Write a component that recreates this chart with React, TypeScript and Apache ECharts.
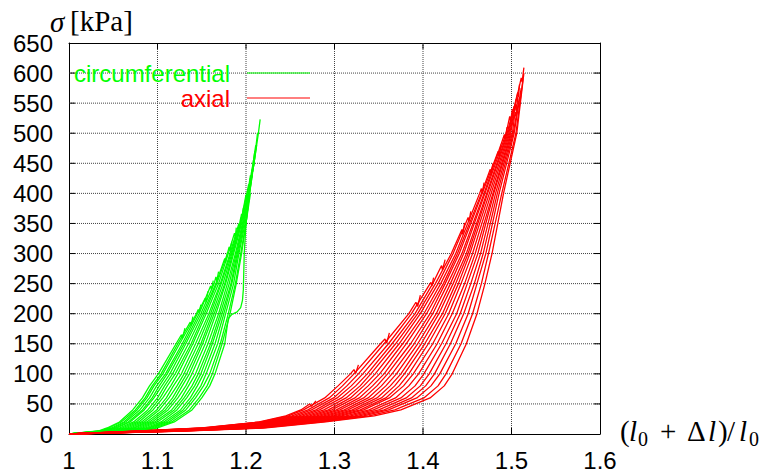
import React, { useEffect, useRef } from "react";
import * as echarts from "echarts";

// x: stretch ratio (l0 + Δl)/l0, y: stress σ [kPa]
const xTicks = { min: 1, max: 1.6, interval: 0.1 };
const yTicks = { min: 0, max: 650, interval: 50 };
const xInnerTicks = [1.1, 1.2, 1.3, 1.4, 1.5];
const yInnerTicks = [50, 100, 150, 200, 250, 300, 350, 400, 450, 500, 550, 600];

// circumferential loading curves [stretch, stress]
const c01 = [[1.0,0],[1.033,5],[1.043,10],[1.057,20],[1.072,40],[1.083,60],[1.091,80],[1.101,100],[1.121,150],[1.127,165],[1.128,158],[1.131,176]];
const c02 = [[1.0,0],[1.035,5],[1.045,10],[1.059,20],[1.075,40],[1.086,60],[1.094,80],[1.104,100],[1.123,150],[1.137,186],[1.138,180],[1.140,195]];
const c03 = [[1.0,0],[1.037,5],[1.048,10],[1.062,20],[1.077,40],[1.088,60],[1.096,80],[1.106,100],[1.125,150],[1.144,200],[1.146,207],[1.147,201],[1.149,215]];
const c04 = [[1.0,0],[1.039,5],[1.050,10],[1.064,20],[1.080,40],[1.091,60],[1.099,80],[1.109,100],[1.128,150],[1.145,200],[1.154,226],[1.155,219],[1.157,237]];
const c05 = [[1.0,0],[1.041,5],[1.052,10],[1.067,20],[1.083,40],[1.094,60],[1.102,80],[1.111,100],[1.130,150],[1.147,200],[1.160,246],[1.161,240],[1.163,255]];
const c06 = [[1.0,0],[1.043,5],[1.054,10],[1.069,20],[1.085,40],[1.096,60],[1.105,80],[1.114,100],[1.132,150],[1.149,200],[1.164,250],[1.166,261],[1.167,254],[1.169,270]];
const c07 = [[1.0,0],[1.046,5],[1.057,10],[1.073,20],[1.089,40],[1.100,60],[1.108,80],[1.117,100],[1.135,150],[1.151,200],[1.166,250],[1.176,292],[1.177,285],[1.179,301]];
const c08 = [[1.0,0],[1.049,5],[1.060,10],[1.076,20],[1.092,40],[1.103,60],[1.111,80],[1.120,100],[1.138,150],[1.153,200],[1.167,250],[1.179,300],[1.181,311],[1.182,304],[1.184,320]];
const c09 = [[1.0,0],[1.051,5],[1.063,10],[1.079,20],[1.095,40],[1.106,60],[1.115,80],[1.123,100],[1.140,150],[1.155,200],[1.169,250],[1.180,300],[1.187,334],[1.188,327],[1.189,343]];
const c10 = [[1.0,0],[1.054,5],[1.066,10],[1.082,20],[1.099,40],[1.110,60],[1.118,80],[1.127,100],[1.143,150],[1.158,200],[1.171,250],[1.182,300],[1.192,350],[1.193,344],[1.194,360]];
const c11 = [[1.0,0],[1.056,5],[1.069,10],[1.085,20],[1.102,40],[1.113,60],[1.122,80],[1.130,100],[1.146,150],[1.160,200],[1.172,250],[1.183,300],[1.193,350],[1.195,366],[1.196,359],[1.197,376]];
const c12 = [[1.0,0],[1.059,5],[1.072,10],[1.088,20],[1.106,40],[1.117,60],[1.125,80],[1.133,100],[1.149,150],[1.162,200],[1.174,250],[1.184,300],[1.194,350],[1.200,398],[1.201,392],[1.202,406]];
const c13 = [[1.0,0],[1.062,5],[1.074,10],[1.091,20],[1.109,40],[1.120,60],[1.128,80],[1.136,100],[1.151,150],[1.164,200],[1.176,250],[1.185,300],[1.194,350],[1.201,400],[1.203,415],[1.204,409],[1.205,425]];
const c14 = [[1.0,0],[1.064,5],[1.077,10],[1.094,20],[1.112,40],[1.123,60],[1.132,80],[1.139,100],[1.154,150],[1.166,200],[1.177,250],[1.186,300],[1.195,350],[1.202,400],[1.205,430],[1.206,424],[1.207,440]];
const c15 = [[1.0,0],[1.067,5],[1.080,10],[1.097,20],[1.116,40],[1.127,60],[1.135,80],[1.143,100],[1.157,150],[1.169,200],[1.179,250],[1.188,300],[1.196,350],[1.202,400],[1.208,450],[1.210,470]];
const c16 = [[1.0,0],[1.069,5],[1.083,10],[1.100,20],[1.119,40],[1.130,60],[1.139,80],[1.146,100],[1.160,150],[1.171,200],[1.181,250],[1.189,300],[1.197,350],[1.203,400],[1.209,450],[1.213,500]];
const c17 = [[1.0,0],[1.072,5],[1.086,10],[1.104,20],[1.122,40],[1.133,60],[1.142,80],[1.149,100],[1.162,150],[1.173,200],[1.183,250],[1.190,300],[1.197,350],[1.203,400],[1.209,450],[1.214,500],[1.216,523]];
const c18 = [[1.0,0],[1.075,5],[1.089,10],[1.107,20],[1.126,40],[1.137,60],[1.145,80],[1.152,100],[1.165,150],[1.175,200],[1.184,250],[1.191,300],[1.198,350],[1.203,400],[1.209,450],[1.212,480]];
const c19 = [[1.0,0],[1.077,5],[1.091,10],[1.110,20],[1.129,40],[1.140,60],[1.149,80],[1.155,100],[1.168,150],[1.177,200],[1.186,250],[1.192,300],[1.199,350],[1.204,400],[1.209,450]];
const c20 = [[1.0,0],[1.080,5],[1.094,10],[1.113,20],[1.132,40],[1.143,60],[1.152,80],[1.159,100],[1.171,150],[1.180,200],[1.188,250],[1.194,300],[1.200,350],[1.204,400],[1.207,430]];
const c21 = [[1.0,0],[1.082,5],[1.097,10],[1.116,20],[1.136,40],[1.147,60],[1.156,80],[1.162,100],[1.173,150],[1.182,200],[1.189,250],[1.195,300],[1.200,350],[1.205,400]];
const c22 = [[1.0,0],[1.085,5],[1.100,10],[1.119,20],[1.139,40],[1.150,60],[1.159,80],[1.165,100],[1.176,150],[1.180,192],[1.184,199],[1.190,203],[1.194,210],[1.196,222],[1.197,240],[1.198,300],[1.200,350],[1.204,400],[1.208,450],[1.211,480]];

// axial loading curves [stretch, stress]
const a01 = [[1.0,0],[1.080,5],[1.150,10],[1.215,20],[1.245,30],[1.262,40],[1.272,50],[1.274,46],[1.279,55]];
const a02 = [[1.0,0],[1.082,5],[1.152,10],[1.217,20],[1.248,30],[1.265,40],[1.289,60],[1.304,80],[1.318,100],[1.322,107],[1.324,101],[1.327,115]];
const a03 = [[1.0,0],[1.084,5],[1.155,10],[1.220,20],[1.252,30],[1.270,40],[1.294,60],[1.309,80],[1.322,100],[1.352,150],[1.357,158],[1.359,151],[1.362,168]];
const a04 = [[1.0,0],[1.086,5],[1.158,10],[1.223,20],[1.256,30],[1.274,40],[1.299,60],[1.314,80],[1.327,100],[1.356,150],[1.384,200],[1.392,219],[1.394,212],[1.397,231]];
const a05 = [[1.0,0],[1.088,5],[1.161,10],[1.226,20],[1.260,30],[1.279,40],[1.303,60],[1.319,80],[1.332,100],[1.361,150],[1.387,200],[1.408,250],[1.409,252],[1.410,246],[1.412,260]];
const a06 = [[1.0,0],[1.090,5],[1.163,10],[1.229,20],[1.264,30],[1.283,40],[1.308,60],[1.324,80],[1.337,100],[1.365,150],[1.391,200],[1.411,250],[1.421,280],[1.422,273],[1.425,290]];
const a07 = [[1.0,0],[1.092,5],[1.166,10],[1.232,20],[1.268,30],[1.288,40],[1.313,60],[1.329,80],[1.341,100],[1.369,150],[1.394,200],[1.414,250],[1.432,300],[1.444,340],[1.445,332],[1.447,351]];
const a08 = [[1.0,0],[1.094,5],[1.169,10],[1.235,20],[1.272,30],[1.293,40],[1.318,60],[1.333,80],[1.346,100],[1.373,150],[1.397,200],[1.417,250],[1.434,300],[1.451,360],[1.452,353],[1.454,370]];
const a09 = [[1.0,0],[1.096,5],[1.172,10],[1.238,20],[1.276,30],[1.297,40],[1.323,60],[1.338,80],[1.351,100],[1.377,150],[1.401,200],[1.420,250],[1.437,300],[1.464,400],[1.466,408],[1.467,400],[1.469,418]];
const a10 = [[1.0,0],[1.098,5],[1.175,10],[1.241,20],[1.280,30],[1.302,40],[1.328,60],[1.343,80],[1.356,100],[1.381,150],[1.404,200],[1.423,250],[1.439,300],[1.466,400],[1.476,440],[1.477,432],[1.479,450]];
const a11 = [[1.0,0],[1.100,5],[1.177,10],[1.244,20],[1.284,30],[1.306,40],[1.333,60],[1.348,80],[1.360,100],[1.386,150],[1.408,200],[1.425,250],[1.441,300],[1.467,400],[1.485,470],[1.486,462],[1.488,481]];
const a12 = [[1.0,0],[1.102,5],[1.180,10],[1.247,20],[1.288,30],[1.311,40],[1.338,60],[1.353,80],[1.365,100],[1.390,150],[1.411,200],[1.428,250],[1.444,300],[1.469,400],[1.492,498],[1.493,492],[1.495,510]];
const a13 = [[1.0,0],[1.104,5],[1.183,10],[1.250,20],[1.292,30],[1.315,40],[1.343,60],[1.358,80],[1.370,100],[1.394,150],[1.415,200],[1.431,250],[1.446,300],[1.470,400],[1.494,500],[1.498,528],[1.499,520],[1.501,540]];
const a14 = [[1.0,0],[1.106,5],[1.186,10],[1.253,20],[1.296,30],[1.320,40],[1.348,60],[1.363,80],[1.375,100],[1.398,150],[1.418,200],[1.434,250],[1.449,300],[1.472,400],[1.495,500],[1.503,545],[1.504,538],[1.505,556]];
const a15 = [[1.0,0],[1.108,5],[1.189,10],[1.256,20],[1.300,30],[1.324,40],[1.353,60],[1.368,80],[1.379,100],[1.402,150],[1.422,200],[1.437,250],[1.451,300],[1.473,400],[1.496,500],[1.507,568],[1.508,560],[1.509,581]];
const a16 = [[1.0,0],[1.110,5],[1.191,10],[1.259,20],[1.304,30],[1.329,40],[1.358,60],[1.373,80],[1.384,100],[1.406,150],[1.425,200],[1.440,250],[1.453,300],[1.475,400],[1.497,500],[1.511,592],[1.512,585],[1.514,609]];
const a17 = [[1.0,0],[1.112,5],[1.194,10],[1.262,20],[1.308,30],[1.333,40],[1.362,60],[1.378,80],[1.389,100],[1.411,150],[1.429,200],[1.443,250],[1.456,300],[1.477,400],[1.498,500],[1.505,548],[1.506,541],[1.507,560]];
const a18 = [[1.0,0],[1.114,5],[1.198,10],[1.266,20],[1.313,30],[1.339,40],[1.369,60],[1.384,80],[1.395,100],[1.416,150],[1.433,200],[1.447,250],[1.459,300],[1.479,400],[1.499,500],[1.503,530]];
const a19 = [[1.0,0],[1.117,5],[1.201,10],[1.270,20],[1.318,30],[1.344,40],[1.375,60],[1.391,80],[1.401,100],[1.421,150],[1.438,200],[1.450,250],[1.462,300],[1.480,400],[1.500,500]];
const a20 = [[1.0,0],[1.119,5],[1.205,10],[1.274,20],[1.323,30],[1.350,40],[1.381,60],[1.397,80],[1.407,100],[1.426,150],[1.442,200],[1.454,250],[1.465,300],[1.482,400],[1.501,500],[1.504,535],[1.505,528],[1.506,545]];
const a21 = [[1.0,0],[1.122,5],[1.208,10],[1.277,20],[1.328,30],[1.356,40],[1.387,60],[1.403,80],[1.413,100],[1.431,150],[1.446,200],[1.458,250],[1.468,300],[1.484,400],[1.502,500],[1.509,560]];
const a22 = [[1.0,0],[1.124,5],[1.212,10],[1.281,20],[1.333,30],[1.361,40],[1.393,60],[1.409,80],[1.419,100],[1.437,150],[1.451,200],[1.461,250],[1.471,300],[1.486,400],[1.503,500],[1.511,575]];
const a23 = [[1.0,0],[1.127,5],[1.216,10],[1.286,20],[1.339,30],[1.368,40],[1.401,60],[1.417,80],[1.426,100],[1.443,150],[1.456,200],[1.466,250],[1.474,300],[1.489,400],[1.505,500],[1.513,590]];
const a24 = [[1.0,0],[1.130,5],[1.220,10],[1.290,20],[1.345,30],[1.375,40],[1.408,60],[1.424,80],[1.433,100],[1.449,150],[1.461,200],[1.470,250],[1.478,300],[1.491,400],[1.506,500],[1.514,600]];

const circumferentialCurves = [c01, c02, c03, c04, c05, c06, c07, c08, c09, c10, c11, c12, c13, c14, c15, c16, c17, c18, c19, c20, c21, c22];
const axialCurves = [a01, a02, a03, a04, a05, a06, a07, a08, a09, a10, a11, a12, a13, a14, a15, a16, a17, a18, a19, a20, a21, a22, a23, a24];

const legendNames = ["circumferential", "axial"];
const GREEN = "#00ff00";
const RED = "#ff0000";
const SANS = "'Liberation Sans', Arial, Helvetica, sans-serif";
const SERIF = "'Liberation Serif', 'Times New Roman', serif";

export default function App() {
  const ref = useRef<HTMLDivElement>(null);
  useEffect(() => {
    if (!ref.current) return;
    const chart = echarts.init(ref.current, null, { renderer: "svg" });
    const fmt = (v: number) => String(Math.round(v * 10) / 10);
    const axisLine = { show: true, onZero: false, lineStyle: { color: "#000", width: 1 } };
    const noTick = { show: false };
    const noSplit = { show: false };
    const label = { color: "#000", fontSize: 24, fontFamily: SANS };

    // inward tick length: about 6 px in data units
    const tx = (xTicks.max - xTicks.min) * 6 / 531;
    const ty = (yTicks.max - yTicks.min) * 6 / 393;

    const plain = (data: number[][], color: string, width: number, type: string, z: number) => ({
      type: "line",
      data,
      showSymbol: false,
      symbol: "none",
      silent: true,
      xAxisIndex: 0,
      yAxisIndex: 0,
      lineStyle: { color, width, type },
      itemStyle: { color },
      z,
    });

    // dotted grid drawn at the tick values through the axes' own scales
    const gridSeries = [
      ...xInnerTicks.map((v) => plain([[v, yTicks.min], [v, yTicks.max]], "#444", 1, "dotted", 1)),
      ...yInnerTicks.map((v) => plain([[xTicks.min, v], [xTicks.max, v]], "#444", 1, "dotted", 1)),
    ];
    // inward ticks on all four sides (gnuplot style)
    const tickSeries = [
      ...xInnerTicks.map((v) => plain([[v, yTicks.min], [v, yTicks.min + ty]], "#000", 1, "solid", 2)),
      ...xInnerTicks.map((v) => plain([[v, yTicks.max], [v, yTicks.max - ty]], "#000", 1, "solid", 2)),
      ...yInnerTicks.map((v) => plain([[xTicks.min, v], [xTicks.min + tx, v]], "#000", 1, "solid", 2)),
      ...yInnerTicks.map((v) => plain([[xTicks.max, v], [xTicks.max - tx, v]], "#000", 1, "solid", 2)),
    ];

    const mkSeries = (curves: number[][][], color: string, name: string) =>
      curves.map((d) => ({ ...plain(d, color, 1.3, "solid", 3), name }));

    const txt = (text: string, x: number, y: number, font: number, family: string, italic = false, color = "#000", align = "left") => ({
      type: "text",
      x,
      y,
      silent: true,
      z: 10,
      style: {
        text,
        fill: color,
        font: `${italic ? "italic " : ""}${font}px ${family}`,
        align,
        verticalAlign: "middle",
      },
    });

    chart.setOption({
      animation: false,
      backgroundColor: "#fff",
      grid: { left: 69, top: 43, right: 169, bottom: 36, containLabel: false },
      xAxis: [
        {
          type: "value", position: "bottom", ...xTicks,
          axisLine, axisTick: noTick, splitLine: noSplit,
          axisLabel: { ...label, margin: 14, formatter: fmt },
        },
        {
          type: "value", position: "top", ...xTicks,
          axisLine, axisTick: noTick, splitLine: noSplit,
          axisLabel: { show: false },
        },
      ],
      yAxis: [
        {
          type: "value", position: "left", ...yTicks,
          axisLine, axisTick: noTick, splitLine: noSplit,
          axisLabel: { ...label, margin: 16 },
        },
        {
          type: "value", position: "right", ...yTicks,
          axisLine, axisTick: noTick, splitLine: noSplit,
          axisLabel: { show: false },
        },
      ],
      series: [
        ...gridSeries,
        ...tickSeries,
        ...mkSeries(circumferentialCurves, GREEN, legendNames[0]),
        ...mkSeries(axialCurves, RED, legendNames[1]),
      ],
      graphic: [
        txt(legendNames[0], 230, 73.5, 24, SANS, false, GREEN, "right"),
        { type: "line", silent: true, z: 10, shape: { x1: 247, y1: 73, x2: 310, y2: 73 }, style: { stroke: GREEN, lineWidth: 1.2 } },
        txt(legendNames[1], 230, 98, 24, SANS, false, RED, "right"),
        { type: "line", silent: true, z: 10, shape: { x1: 247, y1: 98, x2: 310, y2: 98 }, style: { stroke: RED, lineWidth: 1.2 } },
        // y axis title: σ [kPa]
        txt("σ", 50, 22, 29, SERIF, true),
        txt("[kPa]", 70, 21, 29, SERIF),
        // x axis title: (l0 + Δl)/l0
        txt("(", 620, 430.5, 29, SERIF),
        txt("l", 629, 430.5, 29, SERIF, true),
        txt("0", 638, 439, 20, SERIF),
        txt("+", 660, 430.5, 29, SERIF),
        txt("Δ", 687, 430.5, 29, SERIF),
        txt("l", 708, 430.5, 29, SERIF, true),
        txt(")", 718, 430.5, 29, SERIF),
        txt("/", 727, 430.5, 29, SERIF),
        txt("l", 739, 430.5, 29, SERIF, true),
        txt("0", 749, 439, 20, SERIF),
      ],
    });
    return () => chart.dispose();
  }, []);
  return <div ref={ref} style={{ width: 769, height: 472, position: "absolute", left: 0, top: 0 }} />;
}
